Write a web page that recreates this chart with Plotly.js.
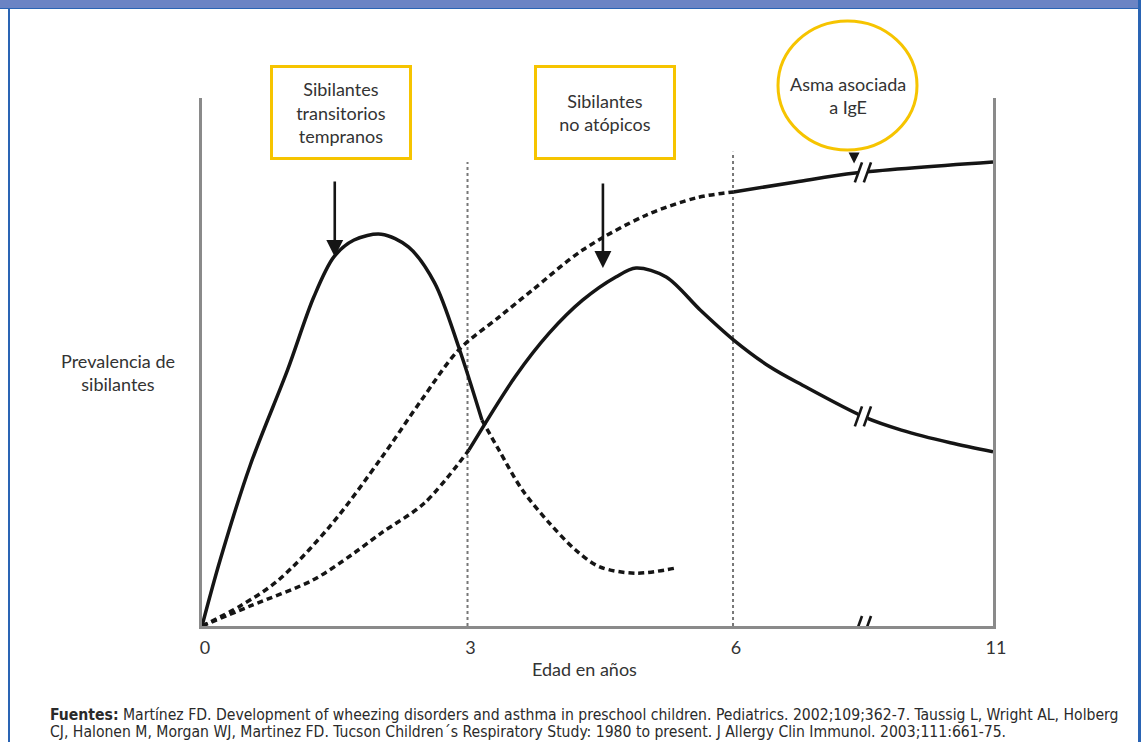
<!DOCTYPE html>
<html>
<head>
<meta charset="utf-8">
<script src="https://cdn.plot.ly/plotly-3.0.1.min.js"></script>
<style>
  html, body { margin: 0; padding: 0; background: #fff; }
  #wrap { position: relative; width: 1141px; height: 742px; overflow: hidden; background: #fff; }
  #chart { position: absolute; left: 0; top: 0; width: 1141px; height: 742px; }
  .bar { position: absolute; left: 0; top: 0; width: 1139px; height: 8px; background: #6b84c4; border-bottom: 1px solid #2a64b4; }
  .lb { position: absolute; left: 8px; top: 9px; width: 2px; height: 733px; background: #2a64b4; }
  .rb { position: absolute; left: 1138px; top: 0; width: 3px; height: 742px; background: #2a64b4; }
</style>
</head>
<body>
<div id="wrap">
  <div id="chart"></div>
  <div class="bar"></div>
  <div class="lb"></div>
  <div class="rb"></div>
</div>
<script>
// ---- Data (age in years, prevalence in arbitrary units 0-100) ----
const tickAges = [0, 3, 6, 11];
const tickLabels = ['0', '3', '6', '11'];

// Sibilantes transitorios tempranos
const ageTransSolid = [0, 0.205, 0.546, 0.967, 1.263, 1.49, 1.718, 2.025, 2.332, 2.628, 2.901, 3.163];
const valTransSolid = [0, 12.5, 30.5, 48.5, 62.3, 69.9, 73.1, 74.2, 71.8, 65.0, 52.8, 39.0];
const ageTransDash = [3.163, 3.356, 3.618, 3.925, 4.221, 4.494, 4.904, 5.359];
const valTransDash = [39.0, 33.3, 25.8, 19.5, 14.4, 11.2, 10.0, 11.0];

// Sibilantes no atópicos
const ageNonAtDash = [0, 0.546, 1.252, 1.684, 2.025, 2.514, 3.015];
const valNonAtDash = [0, 3.8, 8.7, 13.4, 17.6, 23.3, 33.3];
const ageNonAtSolid = [3.015, 3.538, 3.925, 4.30, 4.676, 4.904, 5.245, 5.632, 6.01, 6.71, 7.34, 8.52, 9.24, 10.18, 11];
const valNonAtSolid = [33.3, 47.2, 55.5, 61.7, 66.1, 67.8, 66.1, 59.8, 54.2, 49.1, 45.6, 39.6, 37.1, 34.7, 33.0];

// Asma asociada a IgE
const ageIgEDash = [0, 0.432, 0.865, 1.456, 2.025, 2.48, 2.901, 3.356, 3.732, 4.30, 5.018, 5.587, 6.01];
const valIgEDash = [0, 3.8, 8.7, 19.1, 31.8, 42.8, 52.3, 58.5, 63.6, 71.2, 77.8, 81.1, 82.2];
const ageIgESolid = [6.01, 7.21, 8.35, 11];
const valIgESolid = [82.2, 84.1, 85.8, 87.9];

// Reference ages (vertical dotted lines) and axis break
const refAges = [3, 6];
const refTops = [87.9, 89.8];
const breakAge = 8.5;

// ---- broken x scale: 0-6 linear, 6-11 compressed ----
function disp(a) { return a <= 6 ? a * 1.007 : 6.04 + (a - 6) * 0.592; }
const D = arr => arr.map(disp);

const W = 1141, H = 742, L = 202, R = 148, T = 98, B = 116;
const PW = W - L - R, PH = H - T - B;
const px = p => (p - L) / PW;      // pixel -> paper x
const py = p => (H - B - p) / PH;  // pixel -> paper y

const solid = {color: '#151515', width: 3.5, shape: 'spline', smoothing: 0.9};
const dashed = {color: '#151515', width: 3.5, shape: 'spline', smoothing: 0.9, dash: '6px,4px'};

const traces = [
  {x: D(ageTransSolid), y: valTransSolid, mode: 'lines', line: solid, hoverinfo: 'skip'},
  {x: D(ageTransDash), y: valTransDash, mode: 'lines', line: dashed, hoverinfo: 'skip'},
  {x: D(ageNonAtDash), y: valNonAtDash, mode: 'lines', line: dashed, hoverinfo: 'skip'},
  {x: D(ageNonAtSolid), y: valNonAtSolid, mode: 'lines', line: solid, hoverinfo: 'skip'},
  {x: D(ageIgEDash), y: valIgEDash, mode: 'lines', line: dashed, hoverinfo: 'skip'},
  {x: D(ageIgESolid), y: valIgESolid, mode: 'lines', line: solid, hoverinfo: 'skip'}
];

function interp(xs, ys, x) {
  for (let i = 0; i < xs.length - 1; i++) {
    if (x >= xs[i] && x <= xs[i + 1]) {
      const t = (x - xs[i]) / (xs[i + 1] - xs[i]);
      return ys[i] + t * (ys[i + 1] - ys[i]);
    }
  }
  return ys[ys.length - 1];
}

const shapes = [];
refAges.forEach((a, i) => {
  shapes.push({type: 'line', xref: 'x', yref: 'y', x0: disp(a), x1: disp(a), y0: 0, y1: refTops[i],
    line: {color: '#777', width: 2, dash: '3px,3px'}, layer: 'below'});
});

// axis break marks (bottom axis + two curves)
const bx = disp(breakAge);
const breakYs = [0, interp(ageNonAtSolid, valNonAtSolid, breakAge), interp(ageIgESolid, valIgESolid, breakAge)];
const dxu = 3.6 / (PW / 9), dyu = 10 / (PH / 100), gap = 4.5 / (PW / 9);
breakYs.forEach(yv => {
  shapes.push({type: 'rect', xref: 'x', yref: 'y', x0: bx - gap, x1: bx + gap, y0: yv - 1.2, y1: yv + 1.2,
    fillcolor: '#fff', line: {width: 0}, layer: 'above'});
  [-1, 1].forEach(s => {
    const cx = bx + s * gap;
    shapes.push({type: 'line', xref: 'x', yref: 'y', x0: cx - dxu, x1: cx + dxu, y0: yv - dyu, y1: yv + dyu,
      line: {color: '#151515', width: 2.6}, layer: 'above'});
  });
});

// yellow circle
shapes.push({type: 'circle', xref: 'paper', yref: 'paper', x0: px(778), x1: px(917), y0: py(150), y1: py(21),
  line: {color: '#f6c400', width: 3}, fillcolor: '#fff', layer: 'above'});

const txtFont = {family: 'Lato, "Open Sans", sans-serif', size: 18, color: '#333'};
const footFont = {family: '"Liberation Sans Narrow", "DejaVu Sans Condensed", sans-serif', size: 15.6, color: '#2a2a2a'};
const C = {xanchor: 'center', yanchor: 'middle', showarrow: false};
const annotations = [
  Object.assign({xref: 'paper', yref: 'paper', x: px(341), y: py(112.5), text: 'Sibilantes<br>transitorios<br>tempranos',
    font: txtFont, bordercolor: '#f6c400', borderwidth: 3, borderpad: 0, bgcolor: '#fff',
    width: 136, height: 89, align: 'center', valign: 'middle'}, C),
  Object.assign({xref: 'paper', yref: 'paper', x: px(604.5), y: py(112.5), text: 'Sibilantes<br>no atópicos',
    font: txtFont, bordercolor: '#f6c400', borderwidth: 3, borderpad: 0, bgcolor: '#fff',
    width: 136, height: 89, align: 'center', valign: 'middle'}, C),
  Object.assign({xref: 'paper', yref: 'paper', x: px(848), y: py(96), text: 'Asma asociada<br>a IgE', font: txtFont}, C),
  Object.assign({xref: 'paper', yref: 'paper', x: px(118), y: py(373), text: 'Prevalencia de<br>sibilantes', font: txtFont}, C),
  Object.assign({xref: 'paper', yref: 'paper', x: px(584), y: py(669), text: 'Edad en años', font: txtFont}, C),
  // arrows
  {xref: 'x', yref: 'y', x: disp(1.5), y: 69.9, ax: 0, ay: -77, axref: 'pixel', ayref: 'pixel', showarrow: true,
    arrowhead: 2, arrowsize: 1.3, arrowwidth: 2.6, arrowcolor: '#151515', text: ''},
  {xref: 'x', yref: 'y', x: disp(4.53), y: 67.8, ax: 0, ay: -86, axref: 'pixel', ayref: 'pixel', showarrow: true,
    arrowhead: 2, arrowsize: 1.3, arrowwidth: 2.6, arrowcolor: '#151515', text: ''},
  {xref: 'x', yref: 'y', x: disp(8.33), y: 87.6, ax: 0, ay: -12, axref: 'pixel', ayref: 'pixel', showarrow: true,
    arrowhead: 2, arrowsize: 1.0, arrowwidth: 2.2, arrowcolor: '#151515', text: '', standoff: 0},
  // footer
  {xref: 'paper', yref: 'paper', x: px(48), y: py(715), xanchor: 'left', yanchor: 'middle', align: 'left', showarrow: false,
    text: '<b>Fuentes:</b> Martínez FD. Development of wheezing disorders and asthma in preschool children. Pediatrics. 2002;109;362-7. Taussig L, Wright AL, Holberg',
    font: footFont},
  {xref: 'paper', yref: 'paper', x: px(48), y: py(731.5), xanchor: 'left', yanchor: 'middle', align: 'left', showarrow: false,
    text: 'CJ, Halonen M, Morgan WJ, Martinez FD. Tucson Children´s Respiratory Study: 1980 to present. J Allergy Clin Immunol. 2003;111:661-75.',
    font: footFont}
];

const layout = {
  width: W, height: H,
  margin: {l: L, r: R, t: T, b: B, pad: 0},
  paper_bgcolor: '#fff', plot_bgcolor: '#fff',
  showlegend: false,
  xaxis: {range: [0, 9], tickvals: tickAges.map(disp), ticktext: tickLabels, showgrid: false, zeroline: false,
    showline: true, linecolor: '#8a8a8a', linewidth: 3, ticks: '', ticklabelstandoff: 3, ticklabelshift: 3,
    tickfont: {family: 'Lato, "Open Sans", sans-serif', size: 18, color: '#333'}, fixedrange: true},
  yaxis: {range: [0, 100], showgrid: false, zeroline: false, showticklabels: false, ticks: '',
    showline: true, mirror: true, linecolor: '#8a8a8a', linewidth: 3, fixedrange: true},
  shapes: shapes,
  annotations: annotations
};

Plotly.newPlot('chart', traces, layout, {displayModeBar: false, staticPlot: true});
</script>
</body>
</html>
